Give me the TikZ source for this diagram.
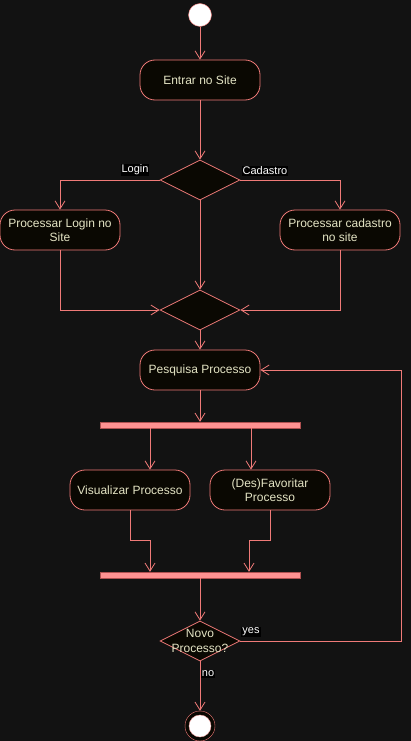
\documentclass[tikz,border=0pt]{standalone}
\usepackage{fontspec}
\setmainfont{Liberation Sans}
\usepackage{xcolor}
\usetikzlibrary{arrows.meta,positioning,shapes.geometric}
\definecolor{bgdark}{RGB}{18,18,18}
\definecolor{edge}{RGB}{240,122,120}
\definecolor{nodefill}{RGB}{10,8,2}
\definecolor{nodetext}{RGB}{228,228,196}
\definecolor{barfill}{RGB}{255,145,145}
\definecolor{bardraw}{RGB}{175,80,80}

\begin{document}
\begin{tikzpicture}[x=1pt,y=-1pt,
    action/.style={rectangle, rounded corners=15pt, draw=edge, fill=nodefill, minimum width=120pt, minimum height=40pt, align=center, text=nodetext, font=\fontsize{12}{14.5}\selectfont, line width=0.8pt},
    decision/.style={diamond, draw=edge, fill=nodefill, minimum width=80pt, minimum height=40pt, inner sep=0pt, line width=0.8pt},
    bar/.style={rectangle, draw=bardraw, fill=barfill, minimum width=200pt, minimum height=6pt, inner sep=0pt},
    guard/.style={fill=black, text=white, inner sep=1pt, font=\fontsize{11}{12}\selectfont},
    arrow/.style={-{Straight Barb[length=8pt,width=10pt]}, draw=edge, line width=0.8pt}
]
\fill[bgdark] (0,0) rectangle (411,741);\useasboundingbox (0,0) rectangle (411,741);
% nodes
\node[circle, draw=edge, fill=white, minimum size=23pt, inner sep=0pt] (start) at (200,15) {};
\node[action] (entrar) at (200,80) {Entrar no Site};
\node[decision] (dec1) at (200,180) {};
\node[action] (login) at (60,230) {Processar Login no\\Site};\node[action] (cadastro) at (340,230) {Processar cadastro\\no site};
\node[decision] (dec2) at (200,310) {};
\node[action] (pesquisa) at (200,370) {Pesquisa Processo};
\node[bar] (fork) at (200,425) {};
\node[action] (visualizar) at (130,490) {Visualizar Processo};\node[action] (favoritar) at (270,490) {(Des)Favoritar\\Processo};
\node[bar] (join) at (200,575) {};
\node[decision, label={[align=center, text=nodetext, font=\fontsize{12}{15}\selectfont]center:Novo\\Processo?}] (dec3) at (200,641) {};
\node[circle, draw=edge, fill=nodefill, minimum size=30pt, inner sep=0pt] (final) at (200,726) {};
\node[circle, draw=edge!70, fill=white, minimum size=22pt, inner sep=0pt] (finalin) at (final) {};
% connectors
\draw[arrow] (start) -- (entrar);\draw[arrow] (entrar) -- (dec1);
\draw[arrow] (dec1.west) -| (login.north);\draw[arrow] (dec1.east) -| (cadastro.north);
\draw[arrow] (dec1) -- (dec2);
\draw[arrow] (login.south) |- (dec2.west);\draw[arrow] (cadastro.south) |- (dec2.east);
\draw[arrow] (dec2) -- (pesquisa);\draw[arrow] (pesquisa) -- (fork);
\draw[arrow] (150,0 |- fork.south) -- (150,0 |- visualizar.north);\draw[arrow] (251,0 |- fork.south) -- (251,0 |- favoritar.north);
\draw[arrow] (visualizar.south) -- ++(0,30) -| (150,0 |- join.north);\draw[arrow] (favoritar.south) -- ++(0,30) -| (249,0 |- join.north);
\draw[arrow] (join) -- (dec3);
\draw[arrow] (dec3.east) -- (401,0 |- dec3.east) |- (pesquisa.east);
\draw[arrow] (dec3) -- (final);
% guards
\node[guard] (lbllogin) at (135,170) {Login};\node[guard] (lblcad) at (265,171) {Cadastro};
\node[guard] (lblyes) at (251,632) {yes};\node[guard] (lblno) at (208,674) {no};
\end{tikzpicture}
\end{document}
